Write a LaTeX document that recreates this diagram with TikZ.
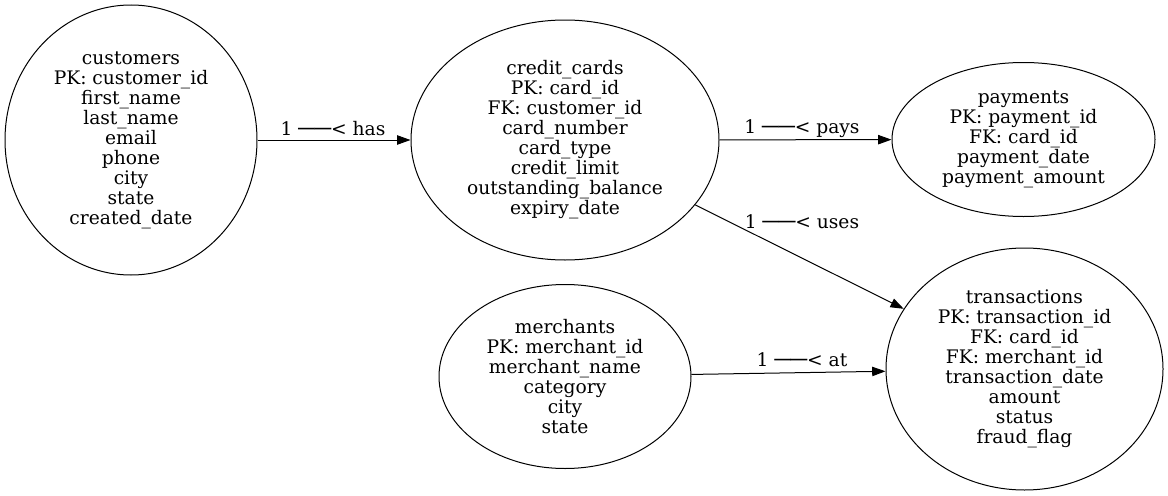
\documentclass[tikz,border=0pt]{standalone}
\usepackage{fontspec}
\setmainfont{DejaVu Serif}
\newfontfamily\boxfont{DejaVu Sans Mono}
\usetikzlibrary{shapes.geometric,arrows.meta}

\tikzset{
  entity/.style={draw, ellipse, inner sep=0pt, align=center, line width=0.75pt,
    font=\fontsize{14}{15}\selectfont},
  rellabel/.style={inner sep=0pt, font=\fontsize{14}{15}\selectfont},
  rel/.style={line width=0.75pt, -{Triangle[length=10pt,width=7pt]}}
}
\newcommand{\onetomany}[1]{1 \scalebox{1.45}[1]{\boxfont ──}<\ #1}

\begin{document}
\begin{tikzpicture}[x=0.75pt,y=0.75pt,yscale=-1,xscale=1]
        \useasboundingbox (0,0) rectangle (1168,496);

        % Entities
        \node[entity, minimum width=189pt, minimum height=202.5pt] (customers) at (131,140)
          {customers\\PK: customer\_id\\first\_name\\last\_name\\email\\phone\\city\\state\\created\_date};
        \node[entity, minimum width=231pt, minimum height=180pt] (credit_cards) at (565,140)
          {credit\_cards\\PK: card\_id\\FK: customer\_id\\card\_number\\card\_type\\credit\_limit\\outstanding\_balance\\expiry\_date};
        \node[entity, minimum width=197.25pt, minimum height=115.5pt] (payments) at (1023.5,139.5)
          {payments\\PK: payment\_id\\FK: card\_id\\payment\_date\\payment\_amount};
        \node[entity, minimum width=189pt, minimum height=138pt] (merchants) at (565,376.5)
          {merchants\\PK: merchant\_id\\merchant\_name\\category\\city\\state};
        \node[entity, minimum width=207.75pt, minimum height=181.5pt] (transactions) at (1024.5,369)
          {transactions\\PK: transaction\_id\\FK: card\_id\\FK: merchant\_id\\transaction\_date\\amount\\status\\fraud\_flag};

        % Relationships
        \draw[rel] (customers) -- (credit_cards);
        \draw[rel] (credit_cards) -- (payments);
        \draw[rel] (credit_cards) -- (transactions);
        \draw[rel] (merchants) -- (transactions);

        % Text Node
        \node[rellabel] (lhas) at (333,129) {\onetomany{has}};
        % Text Node
        \node[rellabel] (lpays) at (802,129) {\onetomany{pays}};
        % Text Node
        \node[rellabel] (luses) at (802,222) {\onetomany{uses}};
        % Text Node
        \node[rellabel] (lat) at (802,360) {\onetomany{at}};

\end{tikzpicture}
\end{document}
